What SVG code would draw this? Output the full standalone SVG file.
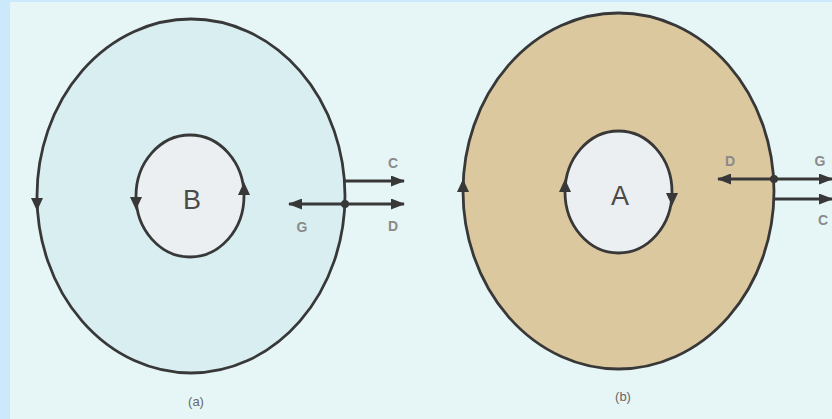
<svg xmlns="http://www.w3.org/2000/svg" width="832" height="419" viewBox="0 0 832 419">
<style>
.ring{stroke:#383838;stroke-width:2.8}
.core{fill:#eceff1;stroke:#383838;stroke-width:2.8}
.big{font-family:"Liberation Sans",Arial,sans-serif;font-size:27px;fill:#4a4a4a;text-anchor:middle}
.lbl{font-family:"Liberation Sans",Arial,sans-serif;font-size:14px;font-weight:bold;fill:#8a8a8a;text-anchor:middle}
.cap{font-family:"Liberation Sans",Arial,sans-serif;font-size:13px;fill:#666;text-anchor:middle}
.conn{stroke:#383838;stroke-width:2.8;fill:none}
.head{fill:#383838}
</style>
<defs>
<marker id="arr" viewBox="0 0 14 11" refX="13" refY="5.5" markerWidth="14" markerHeight="11" markerUnits="userSpaceOnUse" orient="auto-start-reverse">
<path d="M0,0 L14,5.5 L0,11 z" fill="#383838"/>
</marker>
<path id="tri" d="M-6,-6 L6,-6 L0,7 z"/>
</defs>
<rect width="832" height="419" fill="#cce9fb"/>
<rect x="10" y="2" width="822" height="417" fill="#e6f6f6"/>

<g id="node-a-outer">
<ellipse class="ring" cx="191" cy="196" rx="154" ry="177" fill="#d9eef0"/>
<use href="#tri" class="head" transform="translate(37,204)"/>
</g>
<g id="node-B">
<ellipse class="core" cx="190" cy="196" rx="54" ry="61"/>
<use href="#tri" class="head" transform="translate(136,203)"/>
<use href="#tri" class="head" transform="translate(244,189) rotate(180)"/>
<text class="big" x="192" y="209">B</text>
</g>
<g id="node-b-outer">
<ellipse class="ring" cx="618.5" cy="191" rx="155.5" ry="178" fill="#dcc89e"/>
<use href="#tri" class="head" transform="translate(463,186) rotate(180)"/>
</g>
<g id="node-A">
<ellipse class="core" cx="618.5" cy="192" rx="53.5" ry="61"/>
<use href="#tri" class="head" transform="translate(565,186) rotate(180)"/>
<use href="#tri" class="head" transform="translate(672,199)"/>
<text class="big" x="620" y="205">A</text>
</g>

<g id="connectors">
<line class="conn" x1="345" y1="181" x2="404" y2="181" marker-end="url(#arr)"/>
<line class="conn" x1="289" y1="204" x2="404" y2="204" marker-start="url(#arr)" marker-end="url(#arr)"/>
<circle cx="345" cy="204" r="4" class="head"/>
<line class="conn" x1="718" y1="179" x2="832" y2="179" marker-start="url(#arr)" marker-end="url(#arr)"/>
<line class="conn" x1="774" y1="199" x2="832" y2="199" marker-end="url(#arr)"/>
<circle cx="774" cy="179" r="4" class="head"/>
</g>

<g id="labels">
<text class="lbl" x="393" y="168">C</text>
<text class="lbl" x="302" y="232">G</text>
<text class="lbl" x="393" y="231">D</text>
<text class="lbl" x="730" y="166">D</text>
<text class="lbl" x="820" y="166">G</text>
<text class="lbl" x="823" y="225">C</text>
<text class="cap" x="196" y="406">(a)</text>
<text class="cap" x="623" y="401">(b)</text>
</g>
</svg>
